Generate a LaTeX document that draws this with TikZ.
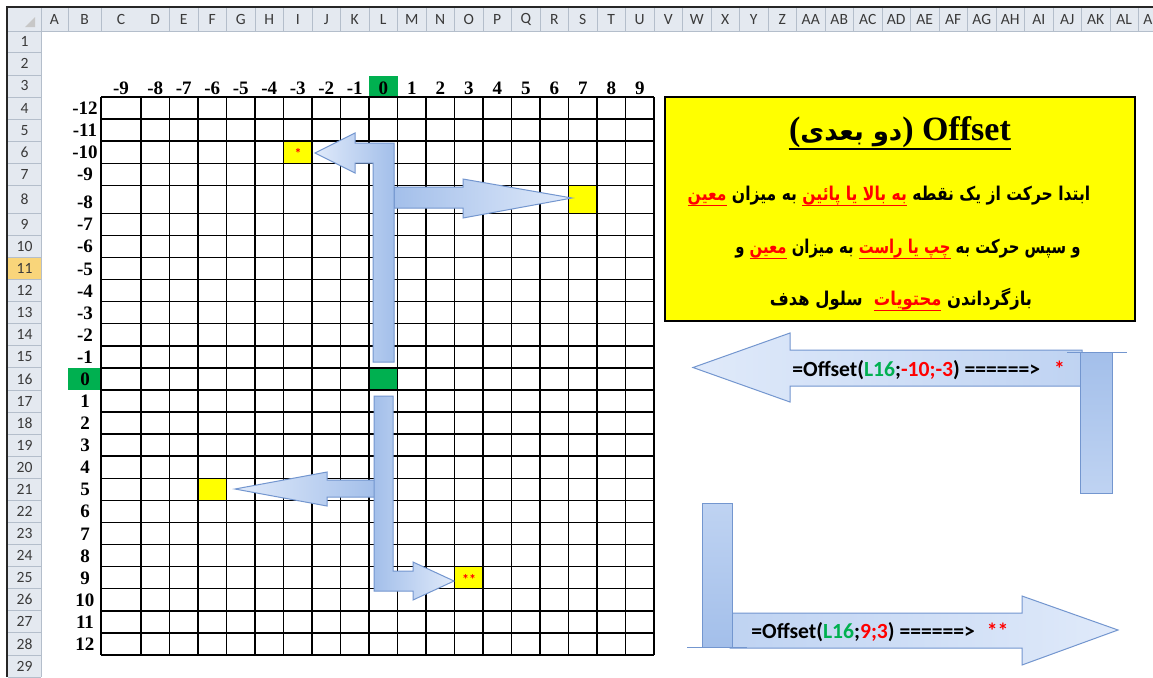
\documentclass[tikz,border=0pt]{standalone}
\usepackage{fontspec}
\setmainfont{Liberation Serif}
\newfontfamily\calfont{Carlito}
\newfontfamily\fa[Script=Arabic]{DejaVu Sans}
\TeXXeTstate=1
\definecolor{hdr}{HTML}{E4E9F0}
\definecolor{hdrline}{HTML}{B4BECB}
\definecolor{hdrtxt}{HTML}{3A3A3A}
\definecolor{xlgreen}{HTML}{00B050}
\definecolor{selrow}{HTML}{F9D57A}
\definecolor{selborder}{HTML}{E2A534}
\definecolor{cellyellow}{HTML}{FFFF00}
\definecolor{abord}{HTML}{7396CF}
\definecolor{alight}{HTML}{E0EAFA}
\definecolor{amid}{HTML}{BFD3F2}
\definecolor{adark}{HTML}{A3BFEA}
\definecolor{fgreen}{HTML}{00B050}
\definecolor{fred}{HTML}{FF0000}
% red underlined RTL segment, placed in a left-to-right line (colour kept outside any reversed list)
\newcommand\redul[1]{{\setbox0\hbox{\beginR#1\endR}\hbox{\color{fred}\rlap{\rule[-3.2pt]{\wd0}{0.6pt}}\box0}}}
\newcommand\rtl[1]{\hbox{\beginR#1\endR}}
\tikzset{
  blk/.style={draw=abord, line width=0.5pt},
  hdrtext/.style={font=\calfont\fontsize{7.8}{9}\selectfont, text=hdrtxt, inner sep=0},
  lbl/.style={font=\bfseries\fontsize{9.5}{11}\selectfont, inner sep=0, anchor=base},
  gridline/.style={line width=0.75pt, black},
  formula/.style={font=\calfont\bfseries\fontsize{10.8}{13}\selectfont, inner sep=0, anchor=base west},
  fatext/.style={font=\fa\bfseries\fontsize{9.5}{12}\selectfont, inner sep=0, anchor=base}
}
\begin{document}
\begin{tikzpicture}[x=0.5pt,y=-0.5pt]
\useasboundingbox (0,0) rectangle (1153,677);
\fill[white] (0,0) rectangle (1153,677);
\begin{scope}
\clip (0,0) rectangle (1153,677);
% headers background
\fill[hdr] (7,7) rectangle (1153,31);
\fill[hdr] (7,31) rectangle (41,677);
\fill[black!22] (35,17) -- (35,27) -- (25,27) -- cycle;
% selected row 11
\fill[selrow] (7,257.5) rectangle (41,279.6);
\draw[selborder, line width=0.5pt] (7.5,257.5) rectangle (41,279.6);
% row headers
\foreach \r in {1,...,29} {
  \pgfmathsetmacro\t{\r<=8 ? 97+22.08*(\r-4) : 213.3+22.08*(\r-9)}
  \pgfmathsetmacro\b{\r<=7 ? 97+22.08*(\r-3) : 213.3+22.08*(\r-8)}
  \draw[hdrline, line width=0.4pt] (8,\b) -- (41,\b);
  \node[hdrtext] (rh\r) at (24.5,{(\t+\b)/2}) {\r};
}
% column headers
\draw[hdrline, line width=0.4pt] (41,8) -- (41,31) (68,8) -- (68,31) (101,8) -- (101,31);
\node[hdrtext] (chA) at (54.5,19.5) {A};
\node[hdrtext] (chB) at (84.5,19.5) {B};
\node[hdrtext] (chC) at (121,19.5) {C};
\foreach \L [count=\k from 0] in {D,E,F,G,H,I,J,K,L,M,N,O,P,Q,R,S,T,U,V,W,X,Y,Z,AA,AB,AC,AD,AE,AF,AG,AH,AI,AJ,AK,AL} {
  \draw[hdrline, line width=0.4pt] ({141+28.5*(\k+1)},8) -- ({141+28.5*(\k+1)},31);
  \node[hdrtext] (ch\L) at ({155.25+28.5*\k},19.5) {\L};
}
\node[hdrtext, anchor=west] (chAM) at (1143,19.5) {A};
\draw[hdrline, line width=0.5pt] (7,31) -- (1153,31);
\draw[hdrline, line width=0.5pt] (41,31) -- (41,677);
% frame
\draw[line width=0.9pt, black!85] (7,677) -- (7,7) -- (1153,7);
% coloured cells
\fill[xlgreen] (369,76) rectangle (397.5,97);
\fill[xlgreen] (68,367.9) rectangle (101,390);
\fill[xlgreen] (369,367.9) rectangle (397.5,390);
\fill[cellyellow] (283.5,141.2) rectangle (312,163.2);
\fill[cellyellow] (568.5,185.3) rectangle (597,213.3);
\fill[cellyellow] (198,478.4) rectangle (226.5,500.4);
\fill[cellyellow] (454.5,566.7) rectangle (483,588.8);
% grid
\foreach \r in {4,...,29} {
  \pgfmathsetmacro\t{\r<=8 ? 97+22.08*(\r-4) : 213.3+22.08*(\r-9)}
  \draw[gridline] (101,\t) -- (654,\t);
}
\draw[gridline] (101,97) -- (101,654.9);
\foreach \k in {0,...,18} {
  \draw[gridline] ({141+28.5*\k},97) -- ({141+28.5*\k},654.9);
}
% column labels
\node[lbl] (cl-9) at (121,94) {-9};
\foreach \k in {0,...,17} {
  \pgfmathtruncatemacro\v{\k-8}
  \node[lbl] (cl\v) at ({155.25+28.5*\k},94) {\v};
}
% row labels
\foreach \r in {4,...,28} {
  \pgfmathsetmacro\b{\r<=7 ? 97+22.08*(\r-3) : 213.3+22.08*(\r-8)}
  \pgfmathtruncatemacro\v{\r-16}
  \node[lbl] (rl\r) at (85,\b-4.5) {\v};
}
% stars in target cells
\node[font=\calfont\bfseries\fontsize{7}{8}\selectfont, text=fred, inner sep=0] (s1) at (298,153) {*};
\node[font=\calfont\bfseries\fontsize{7}{8}\selectfont, text=fred, inner sep=0] (s2) at (469,579) {**};
% arrows on the grid
\draw[blk, left color=adark, right color=alight] (394,187) -- (463,187) -- (463,179) -- (572,198) -- (463,218) -- (463,208) -- (394,208) -- cycle;
\draw[blk, left color=alight, right color=adark] (373,362) -- (394,362) -- (394,143) -- (355,143) -- (355,133) -- (315,153) -- (355,173) -- (355,163) -- (373,163) -- cycle;
\draw[blk, left color=alight, right color=adark] (376,480) -- (327,480) -- (327,472) -- (235,489) -- (327,506) -- (327,497) -- (376,497) -- cycle;
\draw[blk, left color=adark, right color=alight] (374,396) -- (393,396) -- (393,571) -- (413,571) -- (413,562) -- (454,581) -- (413,600) -- (413,591) -- (374,591) -- cycle;
% yellow explanation box
\draw[fill=cellyellow, line width=0.6pt] (665,97) rectangle (1135,321);
\node[inner sep=0, anchor=base] (title) at (900,140) {\fontsize{17}{20}\selectfont\bfseries ({\fa\fontsize{13}{15}\selectfont\beginR دو بعدی\endR}) Offset};
\draw[line width=1pt] ([yshift=-4.5pt]title.base west) -- ([yshift=-4.5pt]title.base east);
\node[fatext] (line1) at (889,200) {\scalebox{0.82}[1]{\redul{معین} \rtl{به میزان} \redul{به بالا یا پائین} \rtl{ابتدا حرکت از یک نقطه}}};
\node[fatext] (line2) at (908,253) {\scalebox{0.78}[1]{\rtl{و} \redul{معین} \rtl{به میزان} \redul{چپ یا راست} \rtl{و سپس حرکت به}}};
\node[fatext] (line3) at (901,305) {\scalebox{0.86}[1]{\rtl{سلول هدف}\ \ \redul{محتویات} \rtl{بازگرداندن}}};
% formula arrow 1
\draw[blk, left color=alight, right color=amid] (1082,350) -- (790,350) -- (790,333) -- (693,367.5) -- (790,402) -- (790,386) -- (1082,386) -- cycle;
\draw[blk, top color=adark, bottom color=amid] (1080,352) rectangle (1112,493);
\draw[abord, line width=0.5pt] (1067,352) -- (1127,352);
\node[formula] (f1) at (792,376) {=Offset(\textcolor{fgreen}{L16};\textcolor{fred}{-10;-3}) ======>\hspace{7pt}\textcolor{fred}{*}};
% formula arrow 2
\draw[blk, left color=amid, right color=alight] (730,613) -- (1022,613) -- (1022,596) -- (1118,630) -- (1022,665) -- (1022,648) -- (730,648) -- cycle;
\draw[blk, top color=amid, bottom color=adark] (702,503) rectangle (732,647);
\draw[abord, line width=0.5pt] (687,647) -- (747,647);
\node[formula] (f2) at (751,638) {=Offset(\textcolor{fgreen}{L16};\textcolor{fred}{9;3}) ======>\hspace{6pt}\textcolor{fred}{**}};
\end{scope}
\end{tikzpicture}
\end{document}
